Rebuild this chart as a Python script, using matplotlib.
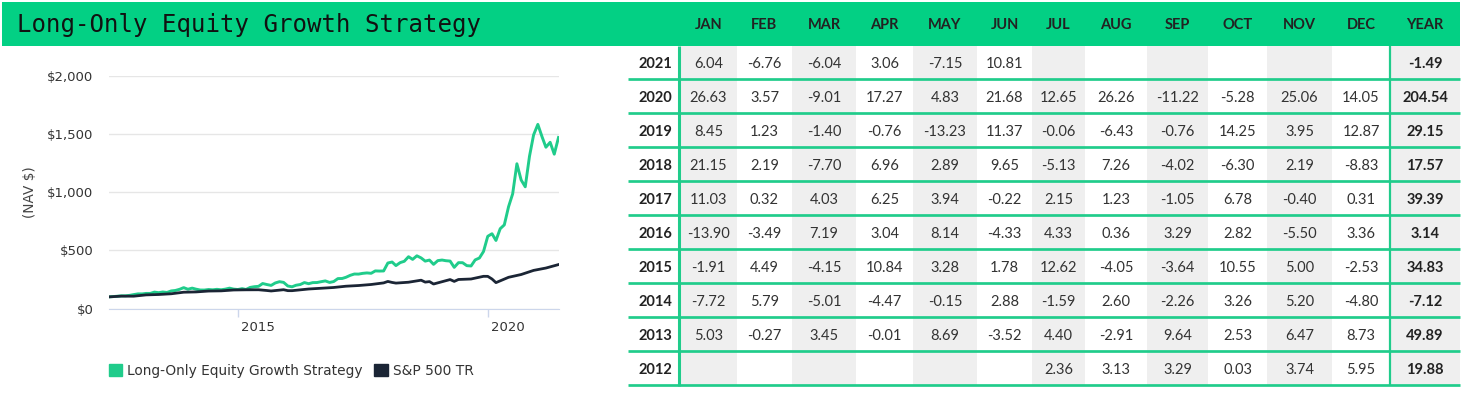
"""Long-Only Equity Growth Strategy: NAV chart plus monthly return table."""
import pandas as pd
import matplotlib
matplotlib.use("Agg")
import matplotlib.pyplot as plt
import matplotlib.dates as mdates
from matplotlib.patches import Rectangle, Patch
from matplotlib.ticker import FuncFormatter

W, H = 1463, 393
BAND = "#03d084"; LINE_GREEN = "#20cc8b"; NAVY = "#1b2535"
GRID = "#e6e6e6"; AXIS = "#ccd6eb"; CELL_GREY = "#efefef"; TXT = "#333333"

# ---- NAV series (growth of $100) ----
strategy_start = "2012-06-01"
strategy_nav = [
    100.0,
    102.4, 105.6, 109.0, 109.1, 113.2, 119.9,
    125.9, 125.6, 129.9, 129.9, 141.2, 136.2, 142.2, 138.1, 151.4, 155.2, 165.3, 179.7,
    165.8, 175.4, 166.6, 159.2, 158.9, 163.5, 160.9, 165.1, 161.4, 166.6, 175.3, 166.9,
    163.7, 171.0, 163.9, 181.7, 187.7, 191.0, 215.1, 206.4, 198.9, 219.9, 230.9, 225.0,
    193.7, 187.0, 200.4, 206.5, 223.3, 213.6, 222.9, 223.7, 231.1, 237.6, 224.5, 232.0,
    257.6, 258.5, 268.9, 285.7, 296.9, 296.3, 302.7, 306.4, 303.2, 323.7, 322.4, 323.4,
    391.8, 400.4, 369.6, 395.3, 406.7, 446.0, 423.1, 453.8, 435.6, 408.1, 417.1, 380.2,
    412.4, 417.4, 411.6, 408.5, 354.4, 394.7, 394.5, 369.1, 366.3, 418.5, 435.0, 491.0,
    621.8, 644.0, 586.0, 687.2, 720.4, 876.5, 987.4, 1246.7, 1106.8, 1048.4, 1311.1, 1495.3,
    1585.6, 1478.4, 1389.1, 1431.7, 1329.3, 1473.0,
]
sp500_dates = [
    "2012-06-01", "2012-09-01", "2012-12-01", "2013-03-01", "2013-06-01", "2013-09-01",
    "2013-12-01", "2014-03-01", "2014-06-01", "2014-09-01", "2014-12-01", "2015-03-01",
    "2015-06-01", "2015-08-01", "2015-09-01", "2015-12-01", "2016-01-01", "2016-02-01",
    "2016-06-01", "2016-09-01", "2016-12-01", "2017-03-01", "2017-06-01", "2017-09-01",
    "2017-12-01", "2018-01-01", "2018-02-01", "2018-03-01", "2018-06-01", "2018-09-01",
    "2018-10-01", "2018-11-01", "2018-12-01", "2019-03-01", "2019-04-01", "2019-05-01",
    "2019-06-01", "2019-09-01", "2019-12-01", "2020-01-01", "2020-02-01", "2020-03-01",
    "2020-06-01", "2020-09-01", "2020-12-01", "2021-03-01", "2021-06-01",
]
sp500_nav = [
    100.0, 106.4, 106.0, 117.2, 120.6, 126.9,
    140.3, 142.8, 150.3, 152.0, 159.5, 161.0,
    161.4, 154.9, 151.0, 161.7, 153.7, 153.5,
    167.9, 174.4, 181.0, 192.0, 197.9, 206.8,
    220.5, 233.1, 224.5, 218.8, 226.3, 243.8,
    227.2, 231.8, 210.9, 239.6, 249.3, 233.4,
    249.9, 254.1, 277.2, 276.9, 254.2, 222.8,
    268.7, 292.7, 328.2, 348.5, 378.3,
]

# ---- monthly return table ----
months = ["JAN", "FEB", "MAR", "APR", "MAY", "JUN", "JUL", "AUG", "SEP", "OCT", "NOV", "DEC"]
years = [2021, 2020, 2019, 2018, 2017, 2016, 2015, 2014, 2013, 2012]
monthly_returns = [
    [6.04, -6.76, -6.04, 3.06, -7.15, 10.81, None, None, None, None, None, None],
    [26.63, 3.57, -9.01, 17.27, 4.83, 21.68, 12.65, 26.26, -11.22, -5.28, 25.06, 14.05],
    [8.45, 1.23, -1.40, -0.76, -13.23, 11.37, -0.06, -6.43, -0.76, 14.25, 3.95, 12.87],
    [21.15, 2.19, -7.70, 6.96, 2.89, 9.65, -5.13, 7.26, -4.02, -6.30, 2.19, -8.83],
    [11.03, 0.32, 4.03, 6.25, 3.94, -0.22, 2.15, 1.23, -1.05, 6.78, -0.40, 0.31],
    [-13.90, -3.49, 7.19, 3.04, 8.14, -4.33, 4.33, 0.36, 3.29, 2.82, -5.50, 3.36],
    [-1.91, 4.49, -4.15, 10.84, 3.28, 1.78, 12.62, -4.05, -3.64, 10.55, 5.00, -2.53],
    [-7.72, 5.79, -5.01, -4.47, -0.15, 2.88, -1.59, 2.60, -2.26, 3.26, 5.20, -4.80],
    [5.03, -0.27, 3.45, -0.01, 8.69, -3.52, 4.40, -2.91, 9.64, 2.53, 6.47, 8.73],
    [None, None, None, None, None, None, 2.36, 3.13, 3.29, 0.03, 3.74, 5.95],
]
year_returns = [-1.49, 204.54, 29.15, 17.57, 39.39, 3.14, 34.83, -7.12, 49.89, 19.88]

# table layout (pixels)
COL_EDGES = [680, 737, 792, 856, 913, 977, 1032, 1085, 1147, 1208, 1267, 1332, 1390, 1460]
TABLE_LEFT = 628
BAND_TOP, BAND_BOT = 2, 45.7
ROW_LINES = [79, 113, 147, 181, 215, 249, 283, 317, 351, 385]


def fmt(v):
    return "" if v is None else f"{v:.2f}"


fig = plt.figure(figsize=(W / 100, H / 100), dpi=100)

# overlay in pixel coordinates for the band and the table
px = fig.add_axes([0, 0, 1, 1], zorder=0)
px.set_xlim(0, W); px.set_ylim(H, 0); px.axis("off")
px.add_patch(Rectangle((2, BAND_TOP), 1458, BAND_BOT - BAND_TOP, color=BAND, lw=0))
px.text(16.6, 31.7, "Long-Only Equity Growth Strategy", family="DejaVu Sans Mono",
        fontsize=17.3, color="#111111", va="baseline", ha="left")

lato = ["Lato", "DejaVu Sans"]
col_centres = [(a + b) / 2 for a, b in zip(COL_EDGES[:-1], COL_EDGES[1:])]
for xc, m in zip(col_centres, months + ["YEAR"]):
    px.text(xc, 29.3, m, family=lato, fontsize=10.5, fontweight="bold",
            color="#222222", ha="center", va="baseline")

row_tops = [BAND_BOT] + ROW_LINES[:-1]
for r, (yr, rets, tot) in enumerate(zip(years, monthly_returns, year_returns)):
    top, bot = row_tops[r], ROW_LINES[r]
    base = (top + bot) / 2 + 5.8
    for c in range(13):
        if c % 2 == 0:
            px.add_patch(Rectangle((COL_EDGES[c], top), COL_EDGES[c + 1] - COL_EDGES[c],
                                   bot - top, color=CELL_GREY, lw=0))
    px.text((TABLE_LEFT + COL_EDGES[0]) / 2 + 1, base, str(yr), family=lato, fontsize=10.5,
            fontweight="bold", color="#222222", ha="center", va="baseline")
    for xc, v in zip(col_centres, rets):
        px.text(xc, base, fmt(v), family=lato, fontsize=10.5, color=TXT,
                ha="center", va="baseline")
    px.text(col_centres[-1], base, fmt(tot), family=lato, fontsize=10.5,
            fontweight="bold", color="#222222", ha="center", va="baseline")

for y in ROW_LINES:
    px.plot([TABLE_LEFT, 1460], [y, y], color=LINE_GREEN, lw=1.95, solid_capstyle="butt")
px.plot([679, 679], [BAND_BOT, ROW_LINES[-1] + 1], color=LINE_GREEN, lw=2.2, solid_capstyle="butt")
px.plot([1390, 1390], [BAND_BOT, ROW_LINES[-1] + 1], color=LINE_GREEN, lw=1.6, solid_capstyle="butt")

# ---- NAV chart ----
left, right, top, bottom = 108.7, 558.5, 76.3, 308.5
ax = fig.add_axes([left / W, (H - bottom) / H, (right - left) / W, (bottom - top) / H], zorder=2)
ax.patch.set_alpha(0)
strategy_dates = pd.date_range(strategy_start, periods=len(strategy_nav), freq="MS")
ax.plot(strategy_dates, strategy_nav, color=LINE_GREEN, lw=2.1, solid_joinstyle="round")
ax.plot(pd.to_datetime(sp500_dates), sp500_nav, color=NAVY, lw=2.0, solid_joinstyle="round")

ax.set_ylim(0, 2000)
ax.set_yticks([0, 500, 1000, 1500, 2000])
ax.yaxis.set_major_formatter(FuncFormatter(lambda v, _: f"${v:,.0f}"))
ax.set_xlim(pd.Timestamp("2012-06-01"), pd.Timestamp("2021-06-01"))
ticks = [pd.Timestamp("2015-01-01"), pd.Timestamp("2020-01-01")]
ax.set_xticks(ticks)
ax.set_xticklabels(["", ""])
for t in ticks:
    ax.text(mdates.date2num(t) + 25, -0.08, t.strftime("%Y"), transform=ax.get_xaxis_transform(),
            fontsize=9.5, color=TXT, ha="left", va="center")
ax.yaxis.grid(True, color=GRID, lw=1)
ax.set_axisbelow(True)
for s in ("top", "left", "right"):
    ax.spines[s].set_visible(False)
ax.spines["bottom"].set_color(AXIS)
ax.tick_params(axis="x", length=6, width=1, color=AXIS)
ax.tick_params(axis="y", length=0, pad=11, labelsize=9.5, labelcolor=TXT)
ax.set_ylabel("(NAV $)", fontsize=9.8, color="#444444")
ax.yaxis.set_label_coords((37 - left) / (right - left), 0.5)

fig.legend(handles=[Patch(color=LINE_GREEN, label="Long-Only Equity Growth Strategy"),
                    Patch(color=NAVY, label="S&P 500 TR")],
           loc="center left", bbox_to_anchor=(left / W, (H - 371) / H), ncol=2,
           frameon=False, fontsize=9.9, handlelength=0.95, handleheight=0.95,
           handletextpad=0.4, columnspacing=0.85, borderpad=0, borderaxespad=0,
           labelcolor=TXT)

fig.savefig("out.png", dpi=100)
